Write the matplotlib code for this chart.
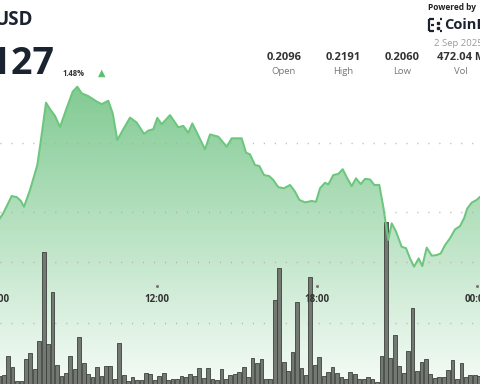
import numpy as np
import matplotlib
matplotlib.use("Agg")
import matplotlib.pyplot as plt
from matplotlib.lines import Line2D

plt.rcParams['font.family'] = ['Open Sans', 'DejaVu Sans']

# price line (hours of day, USD)
price_t = [6.113, 6.236, 6.551, 6.739, 6.889, 7.013, 7.238, 7.511, 7.613, 7.838,
           7.988, 8.175, 8.363, 8.614, 8.839, 9.011, 9.176, 9.424, 9.739, 9.926,
           10.174, 10.339, 10.511, 10.736, 10.988, 11.239, 11.513, 11.674, 11.861, 12.011,
           12.176, 12.488, 12.799, 12.986, 13.174, 13.324, 13.511, 13.800, 13.988, 14.299,
           14.614, 14.801, 15.176, 15.338, 15.488, 15.675, 15.836, 16.013, 16.211, 16.361,
           16.549, 16.763, 16.988, 17.175, 17.336, 17.550, 17.801, 17.963, 18.113, 18.300,
           18.424, 18.611, 18.799, 18.964, 19.136, 19.301, 19.463, 19.639, 19.800, 19.988,
           20.149, 20.336, 20.486, 20.614, 20.674, 20.801, 20.963, 21.176, 21.338, 21.488,
           21.638, 21.814, 21.949, 22.114, 22.301, 22.489, 22.639, 22.800, 22.988, 23.175,
           23.363, 23.513, 23.636, 23.801, 23.989, 24.113]
price = [0.21228, 0.21246, 0.21308, 0.21304, 0.21291, 0.21269, 0.21330, 0.21420, 0.21487, 0.21646,
         0.21623, 0.21598, 0.21558, 0.21627, 0.21686, 0.21704, 0.21680, 0.21670, 0.21650, 0.21641,
         0.21653, 0.21608, 0.21511, 0.21550, 0.21592, 0.21574, 0.21533, 0.21545, 0.21550, 0.21591,
         0.21568, 0.21601, 0.21557, 0.21562, 0.21537, 0.21571, 0.21535, 0.21477, 0.21531, 0.21523,
         0.21487, 0.21517, 0.21517, 0.21465, 0.21459, 0.21420, 0.21417, 0.21384, 0.21380, 0.21366,
         0.21340, 0.21336, 0.21348, 0.21324, 0.21294, 0.21285, 0.21290, 0.21287, 0.21336, 0.21356,
         0.21350, 0.21384, 0.21388, 0.21405, 0.21372, 0.21344, 0.21372, 0.21351, 0.21370, 0.21368,
         0.21348, 0.21348, 0.21269, 0.21185, 0.21149, 0.21209, 0.21179, 0.21124, 0.21119, 0.21082,
         0.21052, 0.21082, 0.21054, 0.21121, 0.21092, 0.21094, 0.21100, 0.21130, 0.21155, 0.21187,
         0.21199, 0.21227, 0.21263, 0.21284, 0.21294, 0.21305]

# volume bars, 10 minute buckets starting 06:00 (millions)
vol_start = 6.0
volume = [0.66, 0.74, 2.30, 1.42, 0.25, 0.25, 2.02, 2.57, 1.20, 3.55,
          10.84, 3.28, 7.52, 1.58, 0.66, 0.88, 2.30, 1.20, 3.88, 1.70,
          0.80, 0.55, 1.42, 0.68, 1.50, 1.50, 0.39, 3.34, 0.74, 0.27,
          0.55, 0.33, 0.33, 0.88, 0.80, 0.33, 0.66, 0.93, 0.33, 0.43,
          0.43, 0.68, 0.60, 0.82, 0.68, 1.34, 0.47, 1.34, 0.43, 0.33,
          1.25, 0.43, 0.76, 0.82, 0.96, 1.42, 0.60, 2.16, 1.70, 2.02,
          0.41, 0.41, 6.89, 9.48, 1.83, 1.07, 2.65, 6.70, 1.29, 0.74,
          8.80, 1.56, 2.19, 0.68, 0.96, 1.42, 0.88, 0.55, 0.41, 1.01,
          0.82, 0.41, 0.41, 0.55, 0.41, 0.19, 2.30, 13.30, 2.11, 4.02,
          1.50, 0.88, 2.73, 6.25, 1.09, 1.78, 2.02, 0.82, 0.47, 0.55,
          0.55, 1.15, 1.97, 0.41, 1.75, 0.60, 0.74, 0.74, 0.66]

tick_hours = [6, 12, 18, 24]
tick_labels = ["06:00", "12:00", "18:00", "00:00"]
price_grid = [0.2150, 0.2125]
vol_grid = [5, 10]

stat_values = ["0.2096", "0.2191", "0.2060", "472.04 M"]
stat_names = ["Open", "High", "Low", "Vol"]

xmin, xmax = 6.1125, 24.1125
pmin, pmax = 0.20627, 0.22018
vmax = 31.48
green = '#6cc67e'

fig = plt.figure(figsize=(4.8, 3.84), dpi=100)
fig.patch.set_facecolor('white')

def make_ax(z):
    a = fig.add_axes([0, 0, 1, 1])
    a.set_zorder(z)
    a.patch.set_visible(False)
    a.set_xlim(xmin, xmax)
    a.axis('off')
    return a

ax_fill = make_ax(0)
ax_vol = make_ax(1)
ax_line = make_ax(2)
ax_fill.set_ylim(pmin, pmax)
ax_line.set_ylim(pmin, pmax)
ax_vol.set_ylim(0, vmax)

# gradient area under the price line
poly = ax_fill.fill_between(price_t, price, pmin, facecolor='none', edgecolor='none')
n = 256
top = np.array([0.50, 0.79, 0.57])
bot = np.array([0.96, 0.985, 0.965])
f = np.linspace(0, 1, n)[:, None]
f = np.clip((f * 384 - 80) / (384 - 80), 0, 1)
grad = top * (1 - f) + bot * f
img = ax_fill.imshow(grad[:, None, :], extent=[xmin, xmax, pmin, pmax],
                     aspect='auto', origin='upper', zorder=1)
img.set_clip_path(poly.get_paths()[0], transform=ax_fill.transData)

for g in price_grid:
    ax_fill.axhline(g, color='#b0acac', lw=1.0, ls=(0, (0.7, 7.2)), zorder=2)
for g in vol_grid:
    ax_vol.axhline(g, color='#b0acac', lw=1.0, ls=(0, (0.7, 7.2)), zorder=0)

# volume bars
bar_x = vol_start + np.arange(len(volume)) / 6.0
ax_vol.bar(bar_x + 1 / 12, volume, width=0.14, color='#737873',
           edgecolor='#3c413c', linewidth=0.6, zorder=2)

# price line
ax_line.plot(price_t, price, color=green, lw=1.45, solid_joinstyle='round', zorder=3)

# time ticks
xt = ax_line.get_xaxis_transform()
for h, lab in zip(tick_hours, tick_labels):
    ax_line.plot([h], [1 - 286 / 384], marker='o', ms=1.2, color='#777777',
                 transform=xt, clip_on=False)
    ax_line.text(h, 1 - 300 / 384, lab, transform=xt, ha='center', va='center',
                 fontsize=7, fontweight='bold', color='#333333')

# header texts
def px(x, y):
    return x / 480, 1 - y / 384

fig.text(*px(33, 20), "USD", ha='right', va='center', fontsize=13.5,
         fontweight='bold', color='#1c2330')
fig.text(*px(55, 64), "0.2127", ha='right', va='center', fontsize=27,
         fontweight='bold', color='#1c2330')
fig.text(*px(63, 73), "1.48%", ha='left', va='center', fontsize=5.5,
         fontweight='bold', color='#333333')
fig.text(*px(102, 73), "\u25b2", ha='center', va='center', fontsize=7, color='#5dbf70')

for i, (v, nm) in enumerate(zip(stat_values, stat_names)):
    cx = 284 + 59 * i
    fig.text(*px(cx, 57), v, ha='center', va='center', fontsize=8,
             fontweight='bold', color='#333333')
    fig.text(*px(cx, 71), nm, ha='center', va='center', fontsize=6.8, color='#777777')

fig.text(*px(428, 7), "Powered by", ha='left', va='center', fontsize=6,
         fontweight='bold', color='#222222')
fig.text(*px(444, 25), "CoinDesk", ha='left', va='center', fontsize=10.5,
         fontweight='bold', color='#1c2330')
fig.text(*px(434, 44), "2 Sep 2025", ha='left', va='center', fontsize=6.8,
         color='#9a9a9a')

# small logo mark
for (x0, y0, x1, y1) in [(429, 19, 429, 31), (429, 19, 434, 19), (429, 31, 434, 31),
                         (431, 25, 434, 25), (440, 19, 442, 19), (440, 31, 442, 31)]:
    fig.add_artist(Line2D([x0 / 480, x1 / 480], [1 - y0 / 384, 1 - y1 / 384],
                          color='#1c2330', lw=1.6, solid_capstyle='butt'))
for yy in (22.5, 27.5):
    fig.add_artist(Line2D([437.5 / 480], [1 - yy / 384], marker='s', ms=1.6,
                          color='#1c2330', lw=0))

fig.savefig('out.png', dpi=100)
